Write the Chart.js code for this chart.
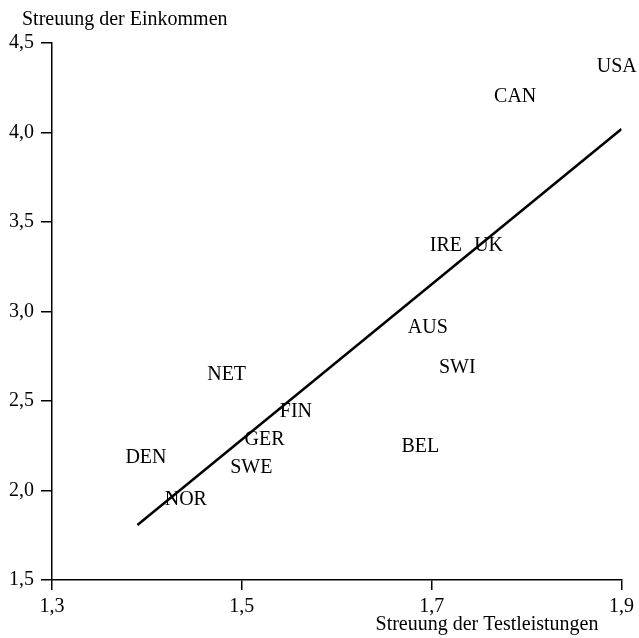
<!DOCTYPE html>
<html>
<head>
<meta charset="utf-8">
<script src="https://cdn.jsdelivr.net/npm/chart.js@4/dist/chart.umd.min.js"></script>
<style>
	html, body { margin: 0; padding: 0; background: #fff; }
	#wrap { width: 639px; height: 638px; }
</style>
</head>
<body>
<div id="wrap"><canvas id="chart" width="639" height="638"></canvas></div>
<script>
const countries = ['USA', 'CAN', 'IRE', 'UK', 'AUS', 'SWI', 'NET', 'FIN', 'GER', 'BEL', 'DEN', 'SWE', 'NOR'];
const testSpread = [1.895, 1.788, 1.715, 1.76, 1.696, 1.727, 1.484, 1.557, 1.524, 1.688, 1.399, 1.51, 1.441];
const incomeSpread = [4.375, 4.208, 3.373, 3.373, 2.915, 2.695, 2.656, 2.446, 2.293, 2.254, 2.189, 2.136, 1.955];

const fitX = [1.39, 1.9];
const fitY = [1.807, 4.02];

const xTicks = [1.3, 1.5, 1.7, 1.9];
const yTicks = [1.5, 2.0, 2.5, 3.0, 3.5, 4.0, 4.5];

const FONT = '"Liberation Serif", "Times New Roman", serif';
const SIZE = 20;

const commaFmt = (v, digits) => v.toFixed(digits).replace('.', ',');

// country codes are drawn centred on their points (cap height centred)
const pointLabels = {
	id: 'pointLabels',
	afterDatasetsDraw(chart) {
		const { ctx } = chart;
		const meta = chart.getDatasetMeta(0);
		ctx.save();
		ctx.fillStyle = '#000';
		ctx.font = SIZE + 'px ' + FONT;
		ctx.textAlign = 'center';
		ctx.textBaseline = 'alphabetic';
		meta.data.forEach((pt, i) => {
			ctx.fillText(countries[i], pt.x, pt.y + SIZE * 0.331);
		});
		ctx.restore();
	},
};

const axisTitles = {
	id: 'axisTitles',
	afterDraw(chart) {
		const { ctx, chartArea } = chart;
		ctx.save();
		ctx.fillStyle = '#000';
		ctx.font = SIZE + 'px ' + FONT;
		ctx.textBaseline = 'alphabetic';
		ctx.textAlign = 'left';
		ctx.fillText('Streuung der Einkommen', chartArea.left - 30, chartArea.top - 18);
		ctx.textAlign = 'right';
		ctx.fillText('Streuung der Testleistungen', chartArea.right - 23, chartArea.bottom + 50);
		ctx.restore();
	},
};

new Chart(document.getElementById('chart'), {
	type: 'scatter',
	data: {
		datasets: [
			{
				label: 'Länder',
				data: testSpread.map((x, i) => ({ x, y: incomeSpread[i] })),
				pointRadius: 0,
				pointHoverRadius: 0,
			},
			{
				label: 'Trend',
				data: fitX.map((x, i) => ({ x, y: fitY[i] })),
				showLine: true,
				borderColor: '#000',
				borderWidth: 2.5,
				pointRadius: 0,
				pointHoverRadius: 0,
			},
		],
	},
	options: {
		responsive: false,
		animation: false,
		events: [],
		layout: { padding: { top: 43, right: 16, left: 0, bottom: 0 } },
		plugins: {
			legend: { display: false },
			tooltip: { enabled: false },
		},
		scales: {
			x: {
				type: 'linear',
				min: 1.3,
				max: 1.9,
				afterBuildTicks: (scale) => {
					scale.ticks = xTicks.map((value) => ({ value }));
				},
				afterFit: (scale) => {
					scale.height = 58;
				},
				ticks: {
					color: '#000',
					font: { family: FONT, size: SIZE },
					padding: 5,
					maxRotation: 0,
					callback: (v) => commaFmt(v, 1),
				},
				grid: {
					drawOnChartArea: false,
					drawTicks: true,
					tickLength: 10,
					color: '#000',
					lineWidth: 1.5,
				},
				border: { color: '#000', width: 1.5 },
			},
			y: {
				type: 'linear',
				min: 1.5,
				max: 4.5,
				afterBuildTicks: (scale) => {
					scale.ticks = yTicks.map((value) => ({ value }));
				},
				afterFit: (scale) => {
					scale.width = 52;
				},
				ticks: {
					color: '#000',
					font: { family: FONT, size: SIZE },
					padding: 7,
					callback: (v) => commaFmt(v, 1),
				},
				grid: {
					drawOnChartArea: false,
					drawTicks: true,
					tickLength: 11,
					color: '#000',
					lineWidth: 1.5,
				},
				border: { color: '#000', width: 1.5 },
			},
		},
	},
	plugins: [pointLabels, axisTitles],
});
</script>
</body>
</html>
